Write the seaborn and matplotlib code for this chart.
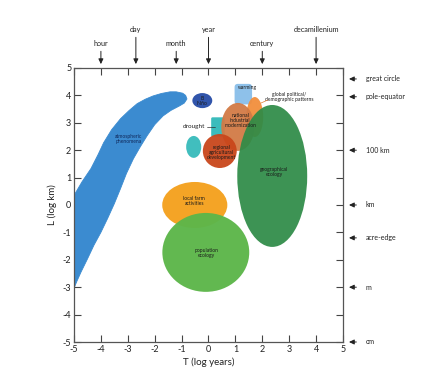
import matplotlib
matplotlib.use("Agg")
import matplotlib.pyplot as plt
import seaborn as sns
from matplotlib.patches import Ellipse, Polygon, FancyBboxPatch

sns.set_theme(style="ticks")
plt.rcParams['font.family'] = ['Lato', 'DejaVu Sans']
plt.rcParams['axes.unicode_minus'] = False

# --- time scale markers (top) and length markers (right), log units
time_names = ['hour', 'day', 'month', 'year', 'century', 'decamillenium']
time_pos = [-4.0, -2.7, -1.2, 0.0, 2.0, 4.0]
time_row = [0, 1, 0, 1, 0, 1]   # 0 = low row, 1 = high row

length_names = ['great circle', 'pole-equator', '100 km', 'km', 'acre-edge', 'm', 'cm']
length_pos = [4.6, 3.95, 2.0, 0.0, -1.2, -3.0, -5.0]

# --- atmospheric phenomena band (upper edge then lower edge, back to start)
atmo_upper_x = [-5.0, -4.7, -4.37, -4.1, -3.9, -3.6, -3.27, -2.95, -2.65,
                -2.35, -2.06, -1.75, -1.43, -1.2, -0.96, -0.85, -0.8]
atmo_upper_y = [0.35, 0.85, 1.33, 1.85, 2.27, 2.75, 3.15, 3.45, 3.70,
                3.86, 3.98, 4.07, 4.13, 4.13, 4.08, 4.00, 3.87]
atmo_lower_x = [-0.9, -1.07, -1.4, -1.69, -2.0, -2.28, -2.55, -2.79, -3.05,
                -3.27, -3.5, -3.75, -4.0, -4.26, -4.5, -4.74, -4.9, -5.0]
atmo_lower_y = [3.72, 3.62, 3.45, 3.25, 2.93, 2.53, 2.10, 1.69, 1.15,
                0.60, 0.05, -0.49, -1.0, -1.47, -1.97, -2.45, -2.8, -3.04]

# --- elliptical domains: centre, width, height (log years / log km)
blob_names = ['local farm activities', 'population ecology', 'drought (episode)',
              'El Niño', 'global political/demographic patterns',
              'national industrial modernization', 'regional agricultural development',
              'geographical ecology']
blob_x = [-0.51, -0.10, -0.55, -0.23, 1.72, 1.09, 0.42, 2.37]
blob_y = [0.00, -1.73, 2.12, 3.81, 3.21, 2.85, 1.97, 1.06]
blob_w = [2.42, 3.23, 0.56, 0.74, 0.63, 1.23, 1.26, 2.60]
blob_h = [1.68, 2.88, 0.80, 0.55, 1.46, 1.75, 1.24, 5.18]
blob_colors = ['#f4a11f', '#5db64a', '#3bbcbc', '#2a4fa8', '#f28e3c',
               '#d27a45', '#c9461b', '#2e8b47']

# --- rectangular domains: left, bottom, width, height
drought_box = [0.10, 2.50, 0.50, 0.70]
warming_box = [0.97, 3.67, 0.65, 0.75]

fig, ax = plt.subplots(figsize=(4.29, 3.75), dpi=100)
fig.subplots_adjust(left=0.1725, right=0.7995, bottom=0.088, top=0.8187)

atmo_pts = list(zip(atmo_upper_x + atmo_lower_x, atmo_upper_y + atmo_lower_y))
ax.add_patch(Polygon(atmo_pts, closed=True, facecolor='#3b8bd0', edgecolor='#3b8bd0',
                     lw=0.6, joinstyle='round', zorder=2))

for i in [0, 1, 2, 3]:
    ax.add_patch(Ellipse((blob_x[i], blob_y[i]), blob_w[i], blob_h[i],
                         facecolor=blob_colors[i], edgecolor='none', alpha=0.97, zorder=3))

ax.add_patch(FancyBboxPatch((drought_box[0], drought_box[1]), drought_box[2], drought_box[3],
                            boxstyle='round,pad=0,rounding_size=0.05',
                            facecolor='#3bbcbc', edgecolor='none', zorder=3))
ax.add_patch(FancyBboxPatch((warming_box[0], warming_box[1]), warming_box[2], warming_box[3],
                            boxstyle='round,pad=0,rounding_size=0.12',
                            facecolor='#8ec1ea', edgecolor='none', zorder=3))

for i in [4, 5, 6]:
    ax.add_patch(Ellipse((blob_x[i], blob_y[i]), blob_w[i], blob_h[i],
                         facecolor=blob_colors[i], edgecolor='none', alpha=0.95, zorder=4))
ax.add_patch(Ellipse((blob_x[7], blob_y[7]), blob_w[7], blob_h[7],
                     facecolor=blob_colors[7], edgecolor='none', alpha=0.93, zorder=5))

# labels inside / beside the domains
lab = dict(fontsize=3.6, ha='center', va='center', color='#1a1a1a', zorder=6,
           linespacing=1.0)
ax.text(-2.98, 2.42, 'atmospheric\nphenomena', **{**lab, 'color': '#10285a'})
ax.text(-0.23, 3.80, 'El\nNiño', **lab)
ax.text(1.44, 4.27, 'warming', **lab)
ax.text(1.19, 3.10, 'national\nindustrial\nmodernization', **lab)
ax.text(0.47, 1.90, 'regional\nagricultural\ndevelopment', **lab)
ax.text(2.45, 1.20, 'geographical\necology', **lab)
ax.text(-0.53, 0.15, 'local farm\nactivities', **lab)
ax.text(-0.08, -1.75, 'population\necology', **lab)
ax.text(3.0, 3.95, 'global political/\ndemographic patterns', **lab)
ax.plot([1.95, 2.2], [3.72, 3.83], color='#e07a30', lw=0.5, zorder=6)
ax.text(-0.53, 2.85, 'drought', fontsize=4.6, ha='center', va='center', color='#222222', zorder=6)
ax.plot([-0.05, 0.25], [2.85, 2.85], color='#333333', lw=0.5, zorder=6)

ax.set_xlim(-5, 5)
ax.set_ylim(-5, 5)
ax.set_xticks(range(-5, 6))
ax.set_yticks(range(-5, 6))
ax.tick_params(direction='in', length=5, width=0.8, color='#444444', labelsize=6.5,
               labelcolor='#222222', top=True, right=True, pad=2)
for s in ax.spines.values():
    s.set_color('#555555')
    s.set_linewidth(0.9)
ax.set_xlabel('T (log years)', fontsize=7, color='#222222', labelpad=3)
ax.set_ylabel('L (log km)', fontsize=7, color='#222222', labelpad=4)

arrow = dict(arrowstyle='-|>,head_length=0.25,head_width=0.12', color='#222222', lw=0.7)
for name, xp, row in zip(time_names, time_pos, time_row):
    ty = 5.91 if row == 0 else 6.42
    ax.annotate('', xy=(xp, 5.04), xytext=(xp, ty - 0.2), annotation_clip=False,
                arrowprops=arrow)
    ax.text(xp, ty, name, fontsize=5.2, ha='center', va='center', color='#222222',
            clip_on=False)

for name, yp in zip(length_names, length_pos):
    ax.annotate('', xy=(5.12, yp), xytext=(5.6, yp), annotation_clip=False,
                arrowprops=arrow)
    ax.text(5.85, yp, name, fontsize=5.0, ha='left', va='center', color='#222222',
            clip_on=False)

fig.savefig('out.png', dpi=100)
